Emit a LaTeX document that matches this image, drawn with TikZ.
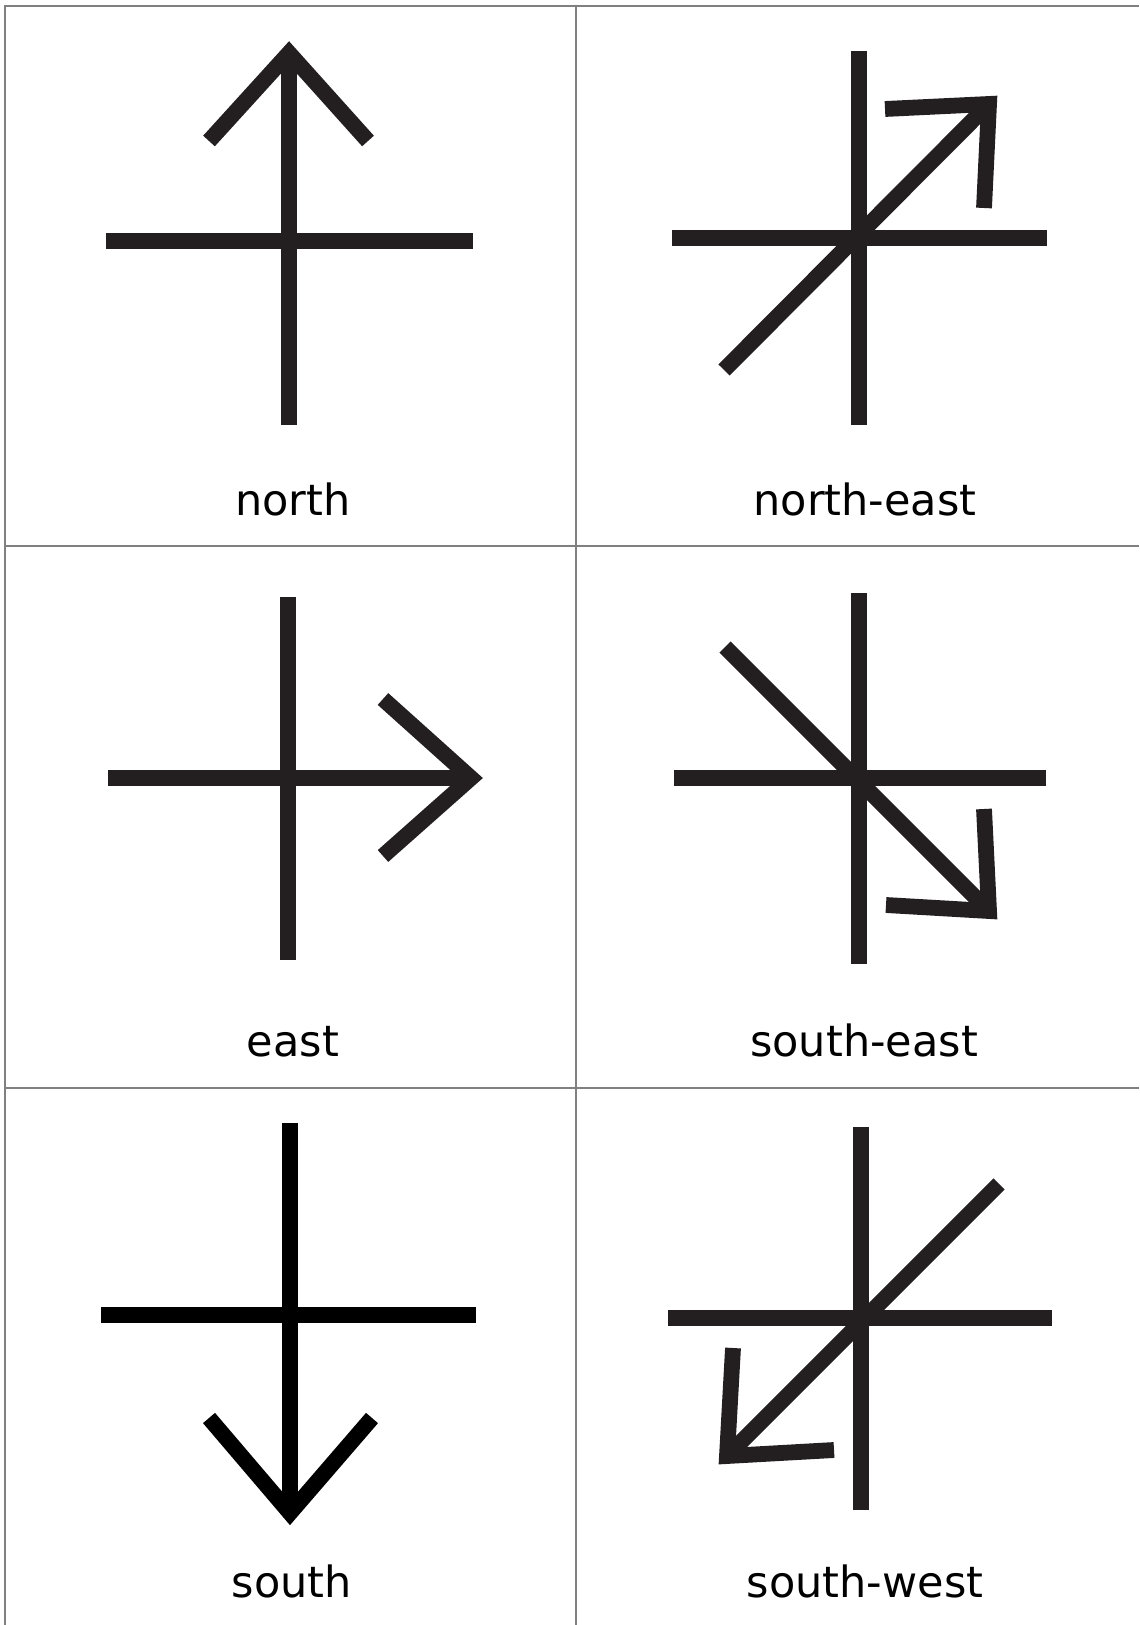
\documentclass[tikz,border=0pt]{standalone}
\usepackage{fontspec}
\setmainfont{DejaVu Sans}
\usetikzlibrary{calc}

\definecolor{ink}{RGB}{35,31,32}
\definecolor{rule}{RGB}{128,128,128}

\begin{document}
\begin{tikzpicture}[x=0.5pt, y=-0.5pt,
  sym/.style={line width=7.9pt, ink},
  grid/.style={line width=1pt, rule},
  lbl/.style={anchor=base, font=\fontsize{21.5}{25}\selectfont}]

\useasboundingbox (0,0) rectangle (1139,1625);
\clip (0,0) rectangle (1139,1625);

% table
\draw[grid] (5,1625) -- (5,6) -- (1139,6);
\draw[grid] (576,6) -- (576,1625);
\draw[grid] (5,546) -- (1139,546);
\draw[grid] (5,1088) -- (1139,1088);

% north
\draw[sym] (106,241) -- (473,241);
\draw[sym] (289,425) -- (289,53);
\draw[sym] (209,141) -- (289,53) -- (368,141);

% north-east
\draw[sym] (672,238) -- (1047,238);
\draw[sym] (859,51) -- (859,425);
\draw[sym] (724,370) -- (989,104);
\draw[sym] (885,109) -- (989,104) -- (984,208);

% east
\draw[sym] (288,597) -- (288,960);
\draw[sym] (108,778) -- (471,778);
\draw[sym] (383,699) -- (471,778) -- (383,856);

% south-east
\draw[sym] (859,593) -- (859,964);
\draw[sym] (674,778) -- (1046,778);
\draw[sym] (725,647) -- (989,911);
\draw[sym] (886,905) -- (989,911) -- (984,809);

% south
\draw[sym, black] (290,1123) -- (290,1513);
\draw[sym, black] (101,1315) -- (476,1315);
\draw[sym, black] (209,1418) -- (290,1513) -- (372,1418);

% south-west
\draw[sym] (861,1127) -- (861,1510);
\draw[sym] (668,1318) -- (1052,1318);
\draw[sym] (999,1184) -- (727,1456);
\draw[sym] (733,1348) -- (727,1456) -- (834,1450);

% labels
\node[lbl] (lblN)  at (293,516)  {north};
\node[lbl] (lblNE) at (865,516)  {north-east};
\node[lbl] (lblE)  at (293,1056) {east};
\node[lbl] (lblSE) at (864,1056) {south-east};
\node[lbl] (lblS)  at (292,1597) {south};
\node[lbl] (lblSW) at (865,1597) {south-west};

\end{tikzpicture}
\end{document}
